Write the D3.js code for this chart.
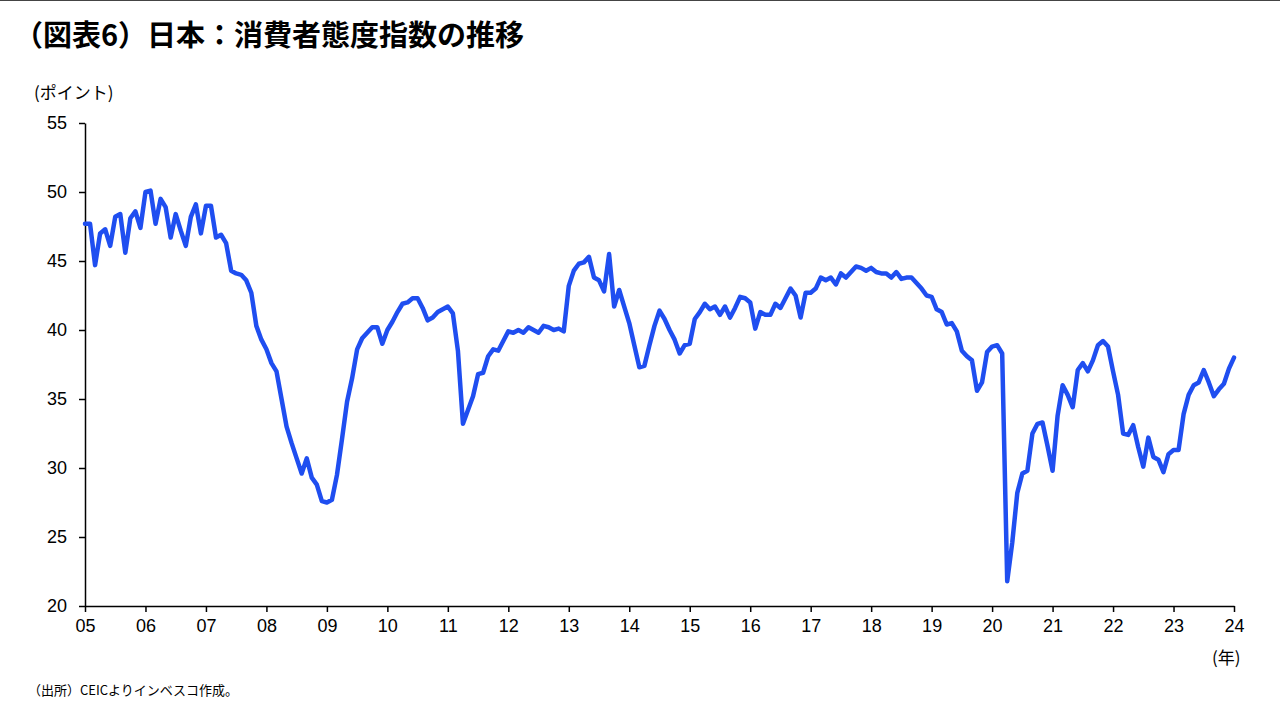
<!DOCTYPE html>
<html><head><meta charset="utf-8">
<script src="https://cdn.jsdelivr.net/npm/d3@7"></script>
<style>body{margin:0;background:#fff}svg{display:block}</style></head>
<body><svg id="c" width="1280" height="720"></svg>
<script>
const startYear = 2005;
const yearTickLabels = ["05","06","07","08","09","10","11","12","13","14","15","16","17","18","19","20","21","22","23","24"];
const yTicks = [20,25,30,35,40,45,50,55];
const v2005=[47.7,47.7,44.7,47.0,47.3,46.1,48.2,48.4,45.6,48.1,48.6,47.4];
const v2006=[50.0,50.1,47.7,49.5,48.9,46.7,48.4,47.2,46.1,48.2,49.1,47.0];
const v2007=[49.0,49.0,46.7,46.9,46.3,44.3,44.1,44.0,43.6,42.7,40.3,39.3];
const v2008=[38.6,37.6,37.0,35.0,33.0,31.8,30.7,29.6,30.7,29.3,28.8,27.6];
const v2009=[27.5,27.7,29.5,32.1,34.8,36.5,38.6,39.4,39.8,40.2,40.2,39.0];
const v2010=[40.0,40.6,41.3,41.9,42.0,42.3,42.3,41.6,40.7,40.9,41.3,41.5];
const v2011=[41.7,41.2,38.5,33.2,34.2,35.2,36.8,36.9,38.1,38.6,38.5,39.2];
const v2012=[39.9,39.8,40.0,39.8,40.2,40.0,39.8,40.3,40.2,40.0,40.1,39.9];
const v2013=[43.2,44.3,44.8,44.9,45.3,43.8,43.6,42.8,45.5,41.7,42.9,41.7];
const v2014=[40.5,38.9,37.3,37.4,38.9,40.3,41.4,40.8,40.0,39.3,38.3,38.9];
const v2015=[39.0,40.8,41.3,41.9,41.5,41.7,41.1,41.7,40.9,41.6,42.4,42.3];
const v2016=[42.0,40.1,41.3,41.1,41.1,41.9,41.6,42.3,43.0,42.5,40.9,42.7];
const v2017=[42.7,43.0,43.8,43.6,43.8,43.3,44.1,43.8,44.2,44.6,44.5,44.3];
const v2018=[44.5,44.2,44.1,44.1,43.8,44.2,43.7,43.8,43.8,43.4,43.0,42.5];
const v2019=[42.4,41.5,41.3,40.4,40.5,39.9,38.5,38.1,37.8,35.6,36.2,38.4];
const v2020=[38.8,38.9,38.3,21.8,24.6,28.2,29.6,29.8,32.5,33.2,33.3,31.6];
const v2021=[29.8,33.8,36.0,35.3,34.4,37.1,37.6,37.0,37.8,38.9,39.2,38.8];
const v2022=[37.0,35.3,32.5,32.4,33.1,31.5,30.1,32.2,30.8,30.6,29.7,31.0];
const v2023=[31.3,31.3,33.9,35.3,36.0,36.2,37.1,36.2,35.2,35.7,36.1,37.2];
const v2024=[38.0];
const values=[].concat(v2005,v2006,v2007,v2008,v2009,v2010,v2011,v2012,v2013,v2014,v2015,v2016,v2017,v2018,v2019,v2020,v2021,v2022,v2023,v2024);

const svg=d3.select("#c");
const font="'Liberation Sans', Arial, sans-serif";
svg.append("line").attr("x1",0).attr("x2",1280).attr("y1",0.5).attr("y2",0.5).attr("stroke","#444");
svg.append("text").attr("x",14).attr("y",46).attr("font-size",29).attr("font-weight","bold")
 .attr("font-family","'Noto Sans CJK JP',sans-serif").attr("fill","#000").text("（図表6）日本：消費者態度指数の推移");
const x=d3.scaleLinear().domain([0,19*12]).range([85,1234]);
const y=d3.scaleLinear().domain([20,55]).range([606,123]);
const gx=svg.append("g").attr("transform","translate(0,606)")
 .call(d3.axisBottom(x).tickValues(d3.range(0,229,12)).tickFormat((d,i)=>yearTickLabels[i]).tickSize(6).tickSizeOuter(0));
const gy=svg.append("g").attr("transform","translate(85,0)")
 .call(d3.axisLeft(y).tickValues(yTicks).tickSize(6).tickSizeOuter(0));
[gx,gy].forEach(g=>{g.select(".domain").attr("stroke","#000").attr("stroke-width",1.5);
 g.selectAll(".tick line").attr("stroke","#000").attr("stroke-width",1.5);
 g.selectAll("text").attr("font-size",18).attr("font-family",font).attr("fill","#000");});
gx.selectAll("text").attr("dy","0.95em");
gy.selectAll("text").attr("dx","-0.5em");
svg.append("path").datum(values).attr("fill","none").attr("stroke","#1f4ef0").attr("stroke-width",4.5)
 .attr("stroke-linejoin","round").attr("stroke-linecap","round")
 .attr("d",d3.line().x((d,i)=>x(i)).y(d=>y(d)));
svg.append("text").attr("x",34).attr("y",99).attr("font-size",17).attr("font-family","'Noto Sans CJK JP',sans-serif").text("(ポイント)");
svg.append("text").attr("x",1212).attr("y",664).attr("font-size",17).attr("font-family","'Noto Sans CJK JP',sans-serif").text("(年)");
svg.append("text").attr("x",28).attr("y",695).attr("font-size",13).attr("font-family","'Noto Sans CJK JP',sans-serif").text("（出所）CEICよりインベスコ作成。");
</script></body></html>
